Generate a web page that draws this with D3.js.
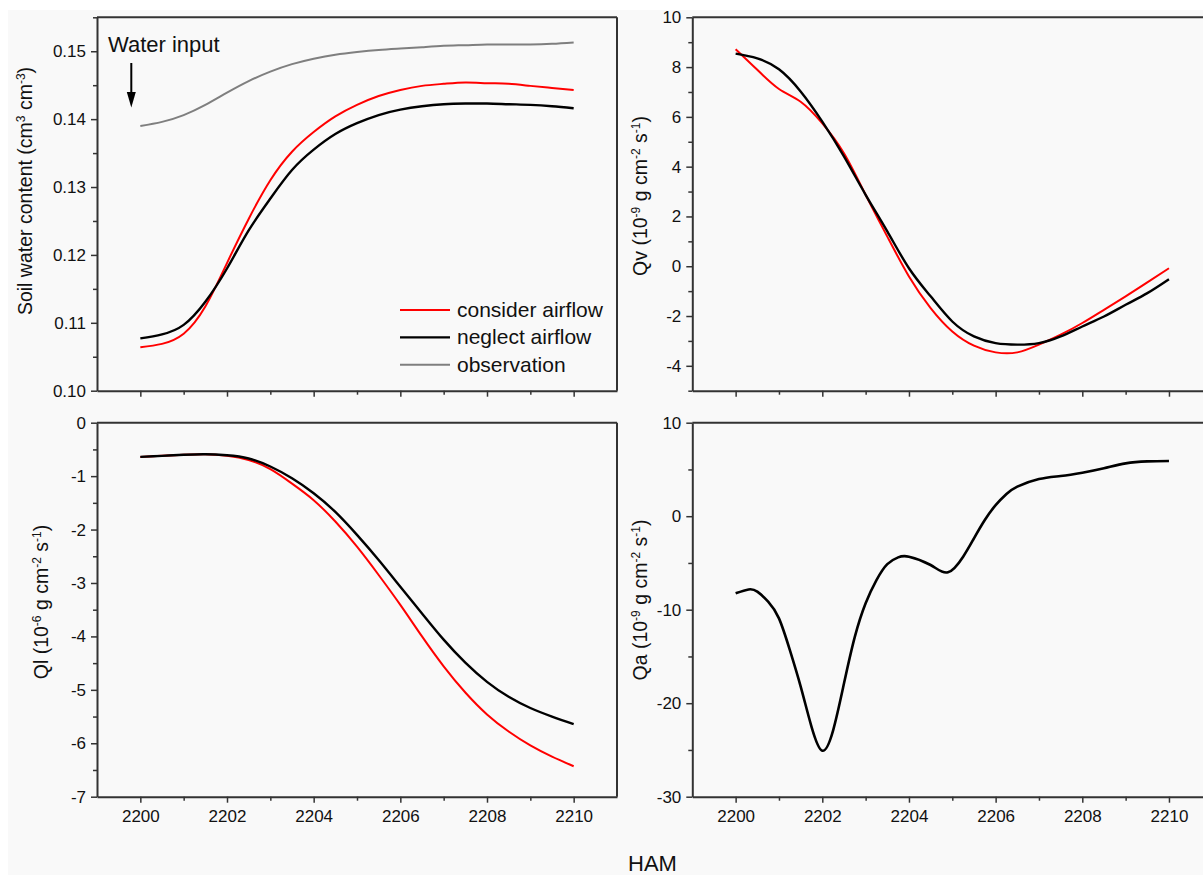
<!DOCTYPE html>
<html>
<head>
<meta charset="utf-8">
<script src="https://cdn.jsdelivr.net/npm/d3@7"></script>
<style>
  body { margin: 0; background: #fff; }
  svg { display: block; }
  text { font-family: "Liberation Sans", Arial, sans-serif; fill: #111; }
</style>
</head>
<body>
<svg id="chart" width="1203" height="875"></svg>
<script>
// time axis (HAM)
const timeHalf = [2200, 2200.5, 2201, 2201.5, 2202, 2202.5, 2203, 2203.5, 2204, 2204.5, 2205,
                  2205.5, 2206, 2206.5, 2207, 2207.5, 2208, 2208.5, 2209, 2209.5, 2210];
const xMajor = [2200, 2202, 2204, 2206, 2208, 2210];
const xMinor = [2201, 2203, 2205, 2207, 2209];

// soil water content (cm3 cm-3)
const swcConsider = [0.1064, 0.1069, 0.1084, 0.1124, 0.1188, 0.1253, 0.1310, 0.1352, 0.1381, 0.1404, 0.1421,
                     0.1434, 0.1443, 0.1449, 0.1452, 0.1454, 0.1453, 0.1452, 0.1449, 0.1446, 0.1443];
const swcNeglect  = [0.1077, 0.1083, 0.1097, 0.1131, 0.1180, 0.1236, 0.1283, 0.1325, 0.1355, 0.1378, 0.1394,
                     0.1406, 0.1414, 0.1419, 0.1422, 0.1423, 0.1423, 0.1422, 0.1421, 0.1419, 0.1416];
const swcObserved = [0.1390, 0.1396, 0.1406, 0.1421, 0.1439, 0.1456, 0.1470, 0.1481, 0.1489, 0.1495, 0.1499,
                     0.1502, 0.1504, 0.1506, 0.1508, 0.1509, 0.1510, 0.1510, 0.1510, 0.1511, 0.1513];

// Qv (1e-9 g cm-2 s-1)
const qvConsider = [8.72, 7.89, 7.12, 6.61, 5.74, 4.54, 2.87, 1.19, -0.41, -1.68, -2.62,
                    -3.19, -3.46, -3.46, -3.15, -2.75, -2.28, -1.75, -1.21, -0.65, -0.08];
const qvNeglect  = [8.54, 8.35, 7.91, 7.02, 5.81, 4.41, 2.87, 1.40, -0.08, -1.21, -2.22,
                    -2.82, -3.09, -3.15, -3.09, -2.82, -2.42, -2.02, -1.55, -1.08, -0.52];

// Ql (1e-6 g cm-2 s-1)
const qlConsider = [-0.64, -0.62, -0.60, -0.59, -0.62, -0.70, -0.87, -1.14, -1.45, -1.85, -2.32,
                    -2.85, -3.41, -4.00, -4.56, -5.05, -5.46, -5.78, -6.04, -6.25, -6.43];
const qlNeglect  = [-0.64, -0.62, -0.60, -0.59, -0.61, -0.67, -0.82, -1.04, -1.32, -1.67, -2.10,
                    -2.57, -3.07, -3.57, -4.06, -4.49, -4.85, -5.13, -5.34, -5.50, -5.64];

// Qa (1e-9 g cm-2 s-1)
const qaTime = [2200, 2200.3, 2200.5, 2200.75, 2201, 2201.25, 2201.5, 2201.75, 2202, 2202.25, 2202.5,
                2202.75, 2203, 2203.25, 2203.5, 2203.75, 2204, 2204.5, 2204.9, 2205.25, 2205.5,
                2205.75, 2206, 2206.25, 2206.5, 2207, 2207.5, 2208, 2208.5, 2209, 2209.5, 2210];
const qaValues = [-8.25, -7.83, -8.07, -9.14, -10.93, -14.3, -18.2, -22.5, -25.08, -22.9, -17.9,
                  -12.9, -9.3, -6.83, -5.12, -4.40, -4.33, -5.22, -6.0, -4.33, -2.37,
                  -0.41, 1.18, 2.37, 3.16, 3.97, 4.30, 4.65, 5.12, 5.65, 5.86, 5.90];

const legendNames = ["consider airflow", "neglect airflow", "observation"];
const RED = "#ff0000", BLACK = "#000000", GRAY = "#7f7f7f";

const svg = d3.select("#chart");
svg.append("rect").attr("x", 8).attr("y", 10).attr("width", 1195).attr("height", 865).attr("fill", "#f9f9f9");

// plain hyphen for negatives, like the original
const hy = f => v => f(v).replace("\u2212", "-");

const panels = [
  { left: 97, top: 17.3, bottom: 390.7, xLabels: false,
    yDomain: [0.10, 0.155], yMajor: [0.10, 0.11, 0.12, 0.13, 0.14, 0.15],
    yMinor: [0.105, 0.115, 0.125, 0.135, 0.145, 0.155], fmt: hy(d3.format(".2f")),
    title: [["Soil water content (cm"], ["3", 1], [" cm"], ["-3", 1], [")"]], titleX: 32, titleY: 191,
    series: [{ x: timeHalf, y: swcConsider, c: RED, w: 2 },
             { x: timeHalf, y: swcNeglect, c: BLACK, w: 2.4 },
             { x: timeHalf, y: swcObserved, c: GRAY, w: 2 }] },
  { left: 692.3, top: 17.3, bottom: 390.7, xLabels: false,
    yDomain: [-5, 10], yMajor: [-4, -2, 0, 2, 4, 6, 8, 10],
    yMinor: [-5, -3, -1, 1, 3, 5, 7, 9], fmt: hy(d3.format("d")),
    title: [["Qv (10"], ["-9", 1], [" g cm"], ["-2", 1], [" s"], ["-1", 1], [")"]], titleX: 647, titleY: 196,
    series: [{ x: timeHalf, y: qvConsider, c: RED, w: 2 },
             { x: timeHalf, y: qvNeglect, c: BLACK, w: 2.4 }] },
  { left: 97, top: 422.7, bottom: 796.7, xLabels: true,
    yDomain: [-7, 0], yMajor: [-7, -6, -5, -4, -3, -2, -1, 0],
    yMinor: [-6.5, -5.5, -4.5, -3.5, -2.5, -1.5, -0.5], fmt: hy(d3.format("d")),
    title: [["Ql (10"], ["-6", 1], [" g cm"], ["-2", 1], [" s"], ["-1", 1], [")"]], titleX: 48, titleY: 602,
    series: [{ x: timeHalf, y: qlConsider, c: RED, w: 2 },
             { x: timeHalf, y: qlNeglect, c: BLACK, w: 2.4 }] },
  { left: 692.3, top: 422.7, bottom: 796.7, xLabels: true,
    yDomain: [-30, 10], yMajor: [-30, -20, -10, 0, 10],
    yMinor: [-25, -15, -5, 5], fmt: hy(d3.format("d")),
    title: [["Qa (10"], ["-9", 1], [" g cm"], ["-2", 1], [" s"], ["-1", 1], [")"]], titleX: 647, titleY: 600,
    series: [{ x: qaTime, y: qaValues, c: BLACK, w: 2.6 }] }
];

const AXIS = "#333";

panels.forEach(p => {
  const g = svg.append("g");
  const x = d3.scaleLinear().domain([2199, 2211]).range([p.left, p.left + 520]);
  const y = d3.scaleLinear().domain(p.yDomain).range([p.bottom, p.top]);

  // frame top + right
  g.append("line").attr("x1", p.left).attr("x2", p.left + 520).attr("y1", p.top).attr("y2", p.top)
    .attr("stroke", AXIS).attr("stroke-width", 2);
  g.append("line").attr("x1", p.left + 520).attr("x2", p.left + 520).attr("y1", p.top).attr("y2", p.bottom)
    .attr("stroke", AXIS).attr("stroke-width", 2);

  // curves
  const line = d3.line().curve(d3.curveNatural);
  p.series.forEach(s => {
    g.append("path")
      .attr("d", line(s.x.map((t, k) => [x(t), y(s.y[k])])))
      .attr("fill", "none").attr("stroke", s.c).attr("stroke-width", s.w)
      .attr("stroke-linejoin", "round");
  });

  // y axis
  g.append("g").attr("transform", `translate(${p.left},0)`)
    .call(d3.axisLeft(y).tickValues(p.yMajor).tickFormat(p.fmt).tickSize(6).tickSizeOuter(0).tickPadding(5));
  g.append("g").attr("transform", `translate(${p.left},0)`)
    .call(d3.axisLeft(y).tickValues(p.yMinor).tickFormat("").tickSize(4).tickSizeOuter(0))
    .select(".domain").remove();

  // x axis
  g.append("g").attr("transform", `translate(0,${p.bottom})`)
    .call(d3.axisBottom(x).tickValues(xMajor).tickFormat(p.xLabels ? d3.format("d") : "")
      .tickSize(6).tickSizeOuter(0).tickPadding(7));
  g.append("g").attr("transform", `translate(0,${p.bottom})`)
    .call(d3.axisBottom(x).tickValues(xMinor).tickFormat("").tickSize(4).tickSizeOuter(0))
    .select(".domain").remove();

  g.selectAll(".domain").attr("stroke", AXIS).attr("stroke-width", 2);
  g.selectAll(".tick line").attr("stroke", AXIS).attr("stroke-width", 1.5);
  g.selectAll(".tick text").attr("font-size", 17).attr("fill", "#111")
    .style("font-family", '"Liberation Sans", Arial, sans-serif');

  // y title
  const t = g.append("text")
    .attr("transform", `translate(${p.titleX},${p.titleY}) rotate(-90)`)
    .attr("text-anchor", "middle").attr("font-size", 19.5);
  p.title.forEach(([s, sup]) => {
    const ts = t.append("tspan").text(s);
    if (sup) ts.attr("baseline-shift", "super").attr("font-size", 12);
  });
});

// legend (top-left panel)
legendNames.forEach((name, i) => {
  const c = [RED, BLACK, GRAY][i];
  const yy = 310 + i * 27.4;
  svg.append("line").attr("x1", 400).attr("x2", 450).attr("y1", yy).attr("y2", yy)
    .attr("stroke", c).attr("stroke-width", i === 1 ? 2.4 : 2);
  svg.append("text").attr("x", 457).attr("y", yy + 7).attr("font-size", 21).text(name);
});

// water input annotation
svg.append("text").attr("x", 108).attr("y", 52).attr("font-size", 22).text("Water input");
svg.append("line").attr("x1", 131.3).attr("x2", 131.3).attr("y1", 63).attr("y2", 95)
  .attr("stroke", "#000").attr("stroke-width", 2);
svg.append("path").attr("d", "M126.8,92 L135.8,92 L131.3,107.5 Z").attr("fill", "#000");

// shared x title
svg.append("text").attr("x", 628).attr("y", 871).attr("font-size", 22).text("HAM");
</script>
</body>
</html>
